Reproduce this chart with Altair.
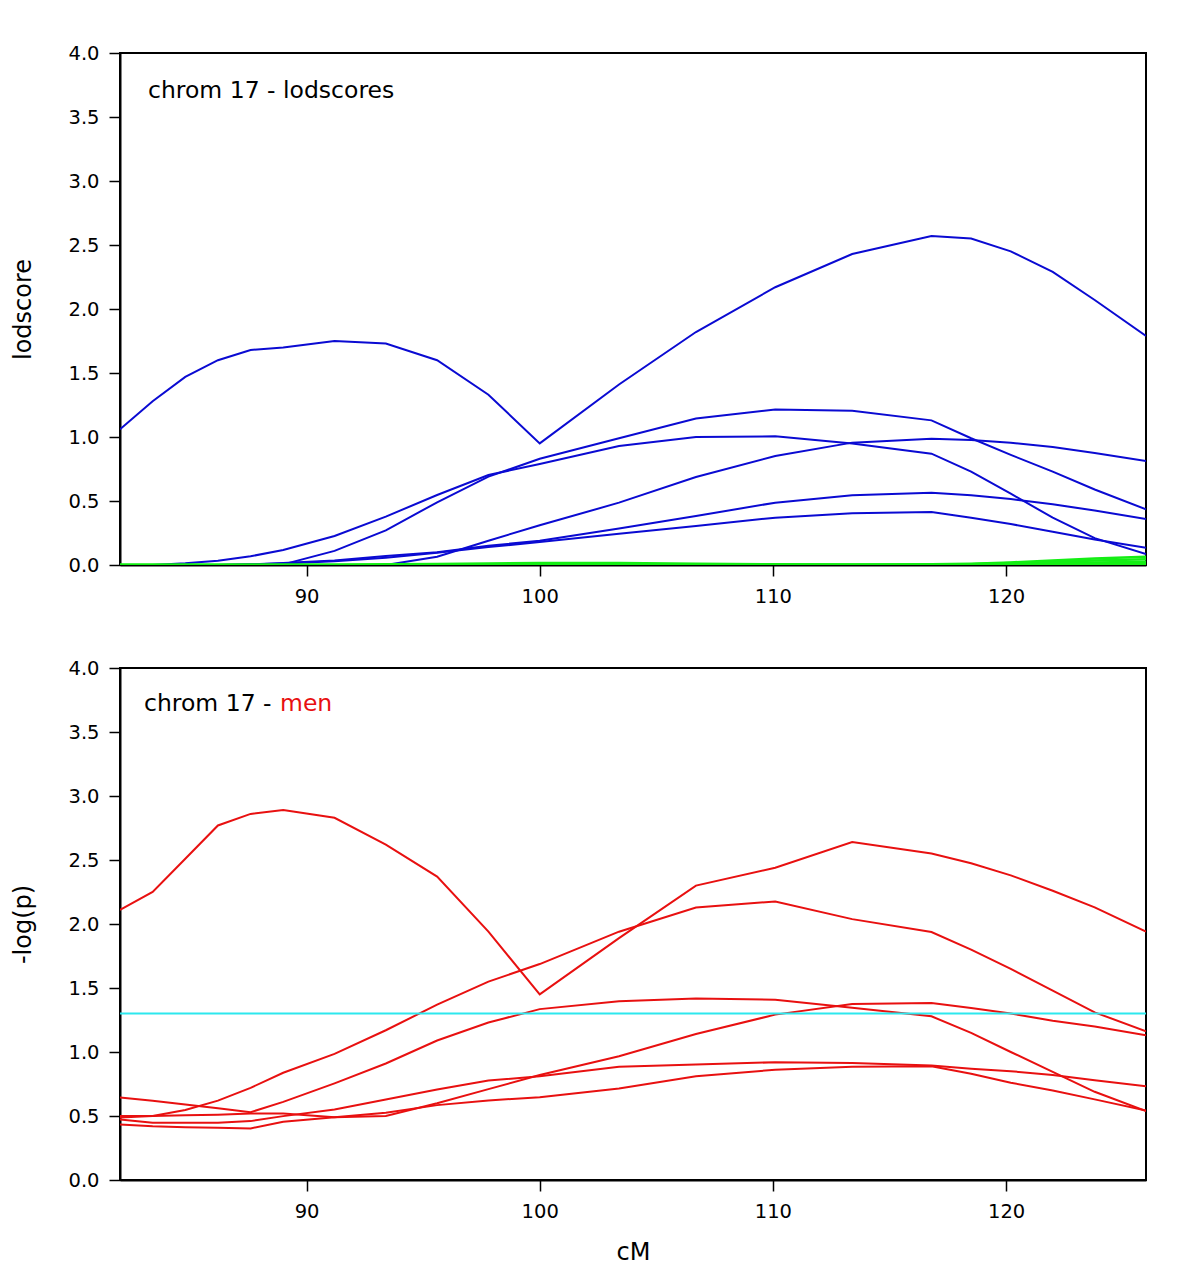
import altair as alt
import pandas as pd

# ---- data ----
cM = [82.0, 83.4, 84.8, 86.2, 87.6, 89.0, 91.2, 93.4, 95.6, 97.8, 100.0,
      103.4, 106.7, 110.1, 113.4, 116.8, 118.5, 120.2, 122.0, 123.8, 126.0]

# top panel: lodscores (blue)
lod_a = [1.06, 1.28, 1.47, 1.60, 1.68, 1.70, 1.75, 1.73, 1.60, 1.33, 0.95,
         1.41, 1.82, 2.17, 2.43, 2.57, 2.55, 2.45, 2.29, 2.07, 1.79]
lod_b = [0.0, 0.0, 0.0, 0.0, 0.0, 0.005, 0.11, 0.27, 0.49, 0.69, 0.83,
         0.99, 1.145, 1.215, 1.205, 1.13, 0.99, 0.86, 0.73, 0.59, 0.435]
lod_c = [0.0, 0.0, 0.013, 0.034, 0.068, 0.117, 0.227, 0.378, 0.547, 0.703, 0.789,
         0.93, 1.0, 1.005, 0.95, 0.87, 0.73, 0.557, 0.37, 0.21, 0.085]
lod_d = [0.0, 0.0, 0.0, 0.0, 0.0, 0.0, 0.0, 0.0, 0.065, 0.19, 0.31,
         0.487, 0.688, 0.852, 0.956, 0.987, 0.977, 0.956, 0.922, 0.875, 0.813]
lod_e = [0.0, 0.0, 0.0, 0.0, 0.005, 0.015, 0.035, 0.07, 0.10, 0.15, 0.19,
         0.285, 0.383, 0.487, 0.544, 0.565, 0.545, 0.515, 0.475, 0.425, 0.36]
lod_f = [0.0, 0.0, 0.0, 0.0, 0.005, 0.012, 0.03, 0.057, 0.095, 0.14, 0.18,
         0.245, 0.305, 0.37, 0.404, 0.414, 0.37, 0.32, 0.26, 0.20, 0.135]

# top panel: near-zero series (green)
grn_a = [0.0, 0.0, 0.0, 0.0, 0.0, 0.0, 0.0, 0.0, 0.0, 0.0, 0.0,
         0.0, 0.0, 0.0, 0.0, 0.005, 0.01, 0.02, 0.035, 0.05, 0.065]
grn_b = [0.0, 0.0, 0.0, 0.0, 0.0, 0.0, 0.0, 0.0, 0.0, 0.0, 0.0,
         0.0, 0.0, 0.0, 0.0, 0.0, 0.005, 0.015, 0.025, 0.035, 0.045]
grn_c = [0.0, 0.0, 0.0, 0.0, 0.0, 0.0, 0.0, 0.005, 0.008, 0.012, 0.015,
         0.015, 0.01, 0.006, 0.004, 0.004, 0.006, 0.01, 0.015, 0.02, 0.025]
grn_d = [0.0, 0.0, 0.0, 0.0, 0.0, 0.0, 0.0, 0.0, 0.0, 0.0, 0.0,
         0.0, 0.0, 0.0, 0.0, 0.0, 0.0, 0.0, 0.004, 0.007, 0.01]
grn_e = [0.0, 0.0, 0.0, 0.0, 0.0, 0.0, 0.0, 0.0, 0.0, 0.0, 0.0,
         0.0, 0.0, 0.0, 0.0, 0.0, 0.0, 0.0, 0.0, 0.0, 0.0]

# bottom panel: -log(p), men (red)
men_a = [2.11, 2.25, 2.51, 2.77, 2.86, 2.89, 2.83, 2.62, 2.37, 1.94, 1.45,
         1.89, 2.30, 2.44, 2.64, 2.55, 2.475, 2.38, 2.26, 2.13, 1.94]
men_b = [0.489, 0.50, 0.547, 0.62, 0.72, 0.838, 0.985, 1.17, 1.37, 1.55, 1.687,
         1.94, 2.129, 2.176, 2.038, 1.937, 1.80, 1.65, 1.48, 1.31, 1.162]
men_c = [0.645, 0.62, 0.59, 0.56, 0.53, 0.61, 0.755, 0.91, 1.09, 1.23, 1.335,
         1.396, 1.417, 1.409, 1.345, 1.279, 1.15, 1.0, 0.845, 0.689, 0.538]
men_d = [0.50, 0.50, 0.505, 0.51, 0.52, 0.52, 0.49, 0.50, 0.60, 0.71, 0.82,
         0.967, 1.141, 1.292, 1.375, 1.383, 1.344, 1.30, 1.245, 1.20, 1.131]
men_e = [0.473, 0.447, 0.447, 0.447, 0.46, 0.499, 0.551, 0.629, 0.707, 0.777, 0.811,
         0.884, 0.902, 0.920, 0.915, 0.894, 0.87, 0.85, 0.82, 0.78, 0.733]
men_f = [0.434, 0.42, 0.413, 0.408, 0.403, 0.455, 0.491, 0.525, 0.585, 0.621, 0.647,
         0.715, 0.811, 0.861, 0.884, 0.889, 0.83, 0.76, 0.70, 0.63, 0.543]

threshold = [1.3]

x_ticks = [90, 100, 110, 120]
y_ticks = [0.0, 0.5, 1.0, 1.5, 2.0, 2.5, 3.0, 3.5, 4.0]

FONT = "DejaVu Sans"
BLUE = "#0a0ad2"
GREEN = "#14ee14"
RED = "#e81010"
CYAN = "#2ce8ee"


def long_df(series):
    rows = []
    for name, vals in series.items():
        for x, v in zip(cM, vals):
            rows.append({"cM": x, "v": v, "s": name})
    return pd.DataFrame(rows)


blue_df = long_df({"a": lod_a, "b": lod_b, "c": lod_c, "d": lod_d, "e": lod_e, "f": lod_f})
green_df = long_df({"a": grn_a, "b": grn_b, "c": grn_c, "d": grn_d, "e": grn_e})
red_df = long_df({"a": men_a, "b": men_b, "c": men_c, "d": men_d, "e": men_e, "f": men_f})

xscale = alt.Scale(domain=[82, 126], nice=False, zero=False)
yscale = alt.Scale(domain=[0, 4], nice=False)

W, H = 1026, 512

axis_common = dict(
    domainColor="black", domainWidth=2, tickColor="black", tickWidth=1.5,
    tickSize=11, labelFont=FONT, labelFontSize=19.5, labelColor="black",
    titleFont=FONT, titleFontSize=24, titleFontWeight="normal", titleColor="black",
    grid=False,
)


def x_axis(title):
    kw = dict(axis_common)
    kw.update(values=x_ticks, labelPadding=11, format="d")
    if title:
        kw.update(title=title, titleY=72, titleBaseline="middle")
    else:
        kw.update(title=None)
    return alt.Axis(**kw)


def y_axis(title):
    kw = dict(axis_common)
    kw.update(values=y_ticks, format=".1f", labelPadding=10, title=title,
              titleX=-97, titleY=H / 2, titleBaseline="middle", titleAlign="center")
    return alt.Axis(**kw)


def lines(df, color, width, xa, ya):
    return alt.Chart(df).mark_line(color=color, strokeWidth=width, clip=True).encode(
        x=alt.X("cM:Q", scale=xscale, axis=xa),
        y=alt.Y("v:Q", scale=yscale, axis=ya),
        detail="s:N",
        order="cM:Q",
    )


# ---- top panel ----
top_title = alt.Chart(pd.DataFrame({"t": ["chrom 17 - lodscores"]})).mark_text(
    align="left", baseline="middle", font=FONT, fontSize=23.5, color="black"
).encode(text="t:N", x=alt.value(28), y=alt.value(38))

top = alt.layer(
    lines(blue_df, BLUE, 2, x_axis(None), y_axis("lodscore")),
    lines(green_df, GREEN, 2.5, x_axis(None), y_axis("lodscore")),
    top_title,
).properties(width=W, height=H)

# ---- bottom panel ----
bot_title_a = alt.Chart(pd.DataFrame({"t": ["chrom 17 -"]})).mark_text(
    align="left", baseline="middle", font=FONT, fontSize=23.5, color="black"
).encode(text="t:N", x=alt.value(24), y=alt.value(36))
bot_title_b = alt.Chart(pd.DataFrame({"t": ["men"]})).mark_text(
    align="left", baseline="middle", font=FONT, fontSize=23.5, color=RED
).encode(text="t:N", x=alt.value(160), y=alt.value(36))

cyan_rule = alt.Chart(pd.DataFrame({"y": threshold})).mark_rule(
    color=CYAN, strokeWidth=2
).encode(y=alt.Y("y:Q", scale=yscale))

bottom = alt.layer(
    lines(red_df, RED, 2, x_axis("cM"), y_axis("-log(p)")),
    cyan_rule,
    bot_title_a,
    bot_title_b,
).properties(width=W, height=H)

chart = alt.vconcat(top, bottom, spacing=50).configure_view(
    stroke="black", strokeWidth=2
).properties(
    padding={"left": 2, "top": 34, "right": 5, "bottom": 5},
    background="white",
)

chart.save("out.html", embed_options={"renderer": "svg", "actions": False})
